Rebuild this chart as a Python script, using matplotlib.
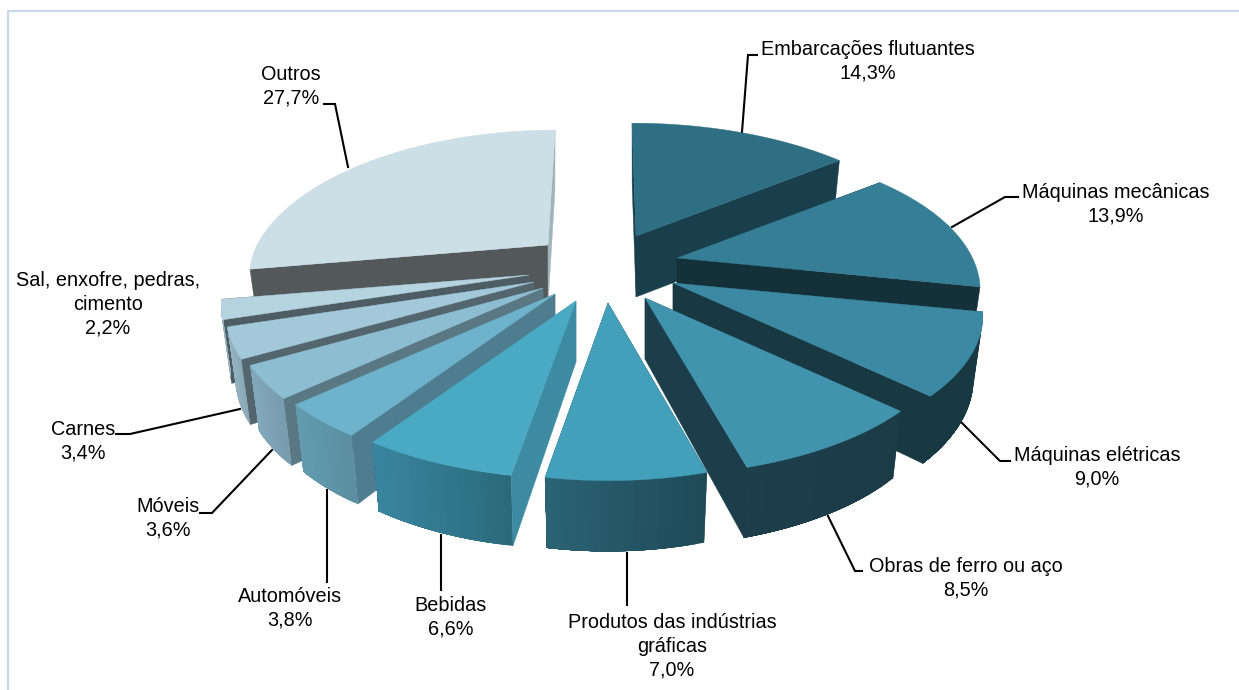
import numpy as np
import matplotlib
matplotlib.use("Agg")
import matplotlib.pyplot as plt
from matplotlib.colors import to_rgb

# ---- data ----
categories = ["Embarcações flutuantes", "Máquinas mecânicas", "Máquinas elétricas",
              "Obras de ferro ou aço", "Produtos das indústrias\ngráficas", "Bebidas",
              "Automóveis", "Móveis", "Carnes", "Sal, enxofre, pedras,\ncimento", "Outros"]
values = [14.3, 13.9, 9.0, 8.5, 7.0, 6.6, 3.8, 3.6, 3.4, 2.2, 27.7]

# ---- styles ----
top_colors = ["#2f6f84", "#357e96", "#3b89a3", "#4193ae", "#43a0ba", "#4aa9c3",
              "#6eb3cb", "#8dbdd1", "#a2c8d9", "#b6d4e0", "#ccdee6"]
radial_colors = ["#193f4c", "#143039", "#183842", "#1c3d4a", "#1f4a58", "#3d8ba3",
                 "#4d7d8f", "#5a7883", "#53666e", "#4e5d63", "#53595b"]
wall_left = ["#193f4c", "#143039", "#183842", "#1c3f4b", "#2b6475", "#3a86a0",
             "#639cb0", "#82a9bb", "#97b5c3", "#93b3c2", "#a3b3ba"]
wall_right = ["#193f4c", "#143039", "#183842", "#1b3b47", "#1f4a58", "#2a6a7c",
              "#5a8ea0", "#769cae", "#8aa9b7", "#93b3c2", "#a3b3ba"]

# ---- layout (pixels of the 1239x690 canvas) ----
tips = [(636, 236), (677, 258), (673, 283), (645, 298), (608, 303), (576, 301),
        (555, 294), (543, 288), (534, 282), (529, 275), (548, 245)]
radius_scale = [1, 0.985, 1.007, 1, 0.97, 1, 1, 1, 1, 1, 0.97]
back_stretch = [1, 1, 1, 1, 1, 1, 1, 1, 1, 1, 1.018]
back_lean = [-4, 0, 0, 0, 0, 0, 0, 0, 0, 0, 7]
draw_order = [10, 0, 1, 2, 9, 8, 7, 6, 3, 5, 4]
RX, RY, PERSP = 300.0, 138.0, 0.223
DEPTH = 61.0
label_pos = [(868, 61), (1116, 204), (1097, 467), (966, 578), (672, 646), (451, 617),
             (290, 608), (168, 518), (83, 441), (108, 304), (291, 86)]
leaders = [[(742, 132), (748, 55), (757, 55)],
           [(952, 227), (1005, 197), (1018, 197)],
           [(961, 422), (1000, 461), (1010, 461)],
           [(828, 516), (855, 571), (862, 571)],
           [(627, 553), (627, 605)],
           [(441, 535), (441, 590)],
           [(327, 490), (327, 582)],
           [(272, 450), (212, 513), (200, 513)],
           [(240, 409), (130, 434), (116, 434)],
           None,
           [(348, 167), (335, 104), (324, 104)]]

plt.rcParams["font.family"] = ["Liberation Sans", "DejaVu Sans"]
fig = plt.figure(figsize=(12.39, 6.90), dpi=100, facecolor="white")
ax = fig.add_axes([0, 0, 1, 1])
ax.set_xlim(0, 1239)
ax.set_ylim(690, 0)
ax.axis("off")

# frame
ax.plot([8, 8, 1239], [690, 11, 11], color="#c8d7ea", lw=1.6, solid_joinstyle="miter", zorder=0)


def project(theta, i):
    """Offset of a rim point from the slice tip, top surface and bottom surface."""
    s, c = np.sin(theta), np.cos(theta)
    f = 1.0 / (1.0 + PERSP * c)
    dx = RX * radius_scale[i] * s * f
    dy = -RY * c * f
    dy = np.where(dy < 0, dy * back_stretch[i], dy)
    dx = dx + back_lean[i] * np.maximum(0, -dy) / 113.0
    depth = DEPTH + 34.0 * np.maximum(f - 1.0, 0)
    return dx, dy, depth


total = float(sum(values))
edges = np.concatenate([[0], np.cumsum(values)]) / total * 2 * np.pi
z = 2
for i in draw_order:
    tx, ty = tips[i]
    th = np.linspace(edges[i], edges[i + 1], 120)
    dx, dy, depth = project(th, i)
    xt, yt = tx + dx, ty + dy
    xb, yb = tx + 0.97 * dx, ty + dy + depth

    # radial walls
    for k in (0, -1):
        ax.fill([tx, xt[k], xb[k], tx], [ty, yt[k], yb[k], ty + DEPTH],
                color=radial_colors[i] if not (i == 10 and k == -1) else wall_left[i],
                lw=0.3, zorder=z)
    z += 1

    # rim wall: only the part that turns towards the viewer, shaded in
    # overlapping bands so that no seams show
    left, right = np.array(to_rgb(wall_left[i])), np.array(to_rgb(wall_right[i]))
    vis = np.where(np.diff(xt) < 0)[0]
    if len(vis):
        first, last = vis[0], vis[-1] + 1
        x0, x1 = xt[first:last + 1].min(), xt[first:last + 1].max()
        for a in range(first, last, 6):
            w = (xt[a] - x0) / max(x1 - x0, 1)
            col = left + (right - left) * w
            ax.fill(np.r_[xt[a:last + 1], xb[a:last + 1][::-1]],
                    np.r_[yt[a:last + 1], yb[a:last + 1][::-1]],
                    facecolor=col, edgecolor="none", lw=0, zorder=z)
    z += 1

    # top surface
    ax.fill(np.r_[tx, xt], np.r_[ty, yt], color=top_colors[i], lw=0.3, zorder=z)
    z += 1

# leaders
for pts in leaders:
    if pts:
        ax.plot([p[0] for p in pts], [p[1] for p in pts], color="black", lw=1.5,
                solid_joinstyle="miter", zorder=1)

# labels
for name, v, (lx, ly) in zip(categories, values, label_pos):
    ax.text(lx, ly, f"{name}\n{v:.1f}%".replace(".", ","), ha="center", va="center",
            fontsize=14.35, color="black", linespacing=1.31, zorder=100)

fig.savefig("out.png", dpi=100, facecolor="white")
